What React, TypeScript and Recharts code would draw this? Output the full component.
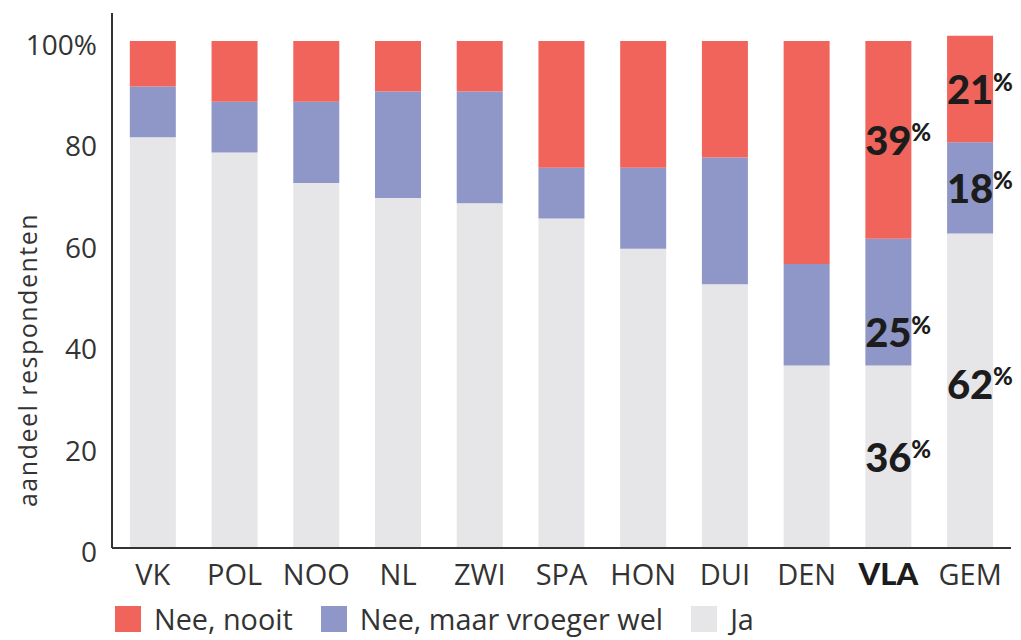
import { Bar, BarChart, LabelList, Legend, XAxis, YAxis } from "recharts";

const countries = ["VK", "POL", "NOO", "NL", "ZWI", "SPA", "HON", "DUI", "DEN", "VLA", "GEM"];
const ja = [81, 78, 72, 69, 68, 65, 59, 52, 36, 36, 62];
const vroegerWel = [10, 10, 16, 21, 22, 10, 16, 25, 20, 25, 18];
const nooit = [9, 12, 12, 10, 10, 25, 25, 23, 44, 39, 21];
const yTicks = [0, 20, 40, 60, 80, 100];
const labelled = ["VLA", "GEM"];

const RED = "#f0645c";
const BLUE = "#8e97c7";
const GREY = "#e6e6e8";
const INK = "#333333";
const FONT = "'Open Sans', Lato, sans-serif";
const BOLD_FONT = "Lato, 'Open Sans', sans-serif";

const data = countries.map((land, i) => ({
  land,
  ja: ja[i],
  vroegerWel: vroegerWel[i],
  nooit: nooit[i],
}));

const legendItems = [
  { label: "Nee, nooit", color: RED },
  { label: "Nee, maar vroeger wel", color: BLUE },
  { label: "Ja", color: GREY },
];

// a couple of labels sit off-centre in their segment in the original
const labelShift: Record<string, number> = { "VLA-vroegerWel": 30, "GEM-ja": -7 };

function pctLabel(key: string) {
  return (props: any) => {
    const { x, y, width, height, index, value } = props;
    const land = countries[index];
    if (!labelled.includes(land)) return null;
    const cx = Number(x) + Number(width) / 2;
    const cy = Number(y) + Number(height) / 2 + (labelShift[`${land}-${key}`] ?? 0);
    return (
      <g>
        <text x={cx} y={cy} textAnchor="middle" dominantBaseline="central" fontFamily={BOLD_FONT} fontSize={40} fontWeight={900} fill="#1c1c1c">
          {value}
        </text>
        <text x={cx + 23} y={cy - 8} textAnchor="start" dominantBaseline="central" fontFamily={BOLD_FONT} fontSize={24} fontWeight={900} fill="#1c1c1c">
          %
        </text>
      </g>
    );
  };
}

function XTick(props: any) {
  const { x, y, payload } = props;
  const bold = payload.value === "VLA";
  return (
    <text x={x} y={y + 29} textAnchor="middle" fontFamily={bold ? BOLD_FONT : FONT} fontSize={bold ? 31 : 29} fontWeight={bold ? 900 : 400} fill={bold ? "#1c1c1c" : INK}>
      {payload.value}
    </text>
  );
}

function YTick(props: any) {
  const { y, payload } = props;
  return (
    <text x={97} y={y + 14} textAnchor="end" fontFamily={FONT} fontSize={28} fill={INK}>
      {payload.value === 100 ? "100%" : payload.value}
    </text>
  );
}

function YTitle() {
  return (
    <text x={27} y={360} transform="rotate(-90 27 360)" textAnchor="middle" dominantBaseline="central" fontFamily={FONT} fontSize={25} letterSpacing={1.5} fill={INK}>
      aandeel respondenten
    </text>
  );
}

function LegendRow() {
  return (
    <div style={{ display: "flex", alignItems: "center", paddingLeft: 115, height: 38, fontFamily: FONT, fontSize: 28.8, lineHeight: "32px", color: INK }}>
      {legendItems.map((it) => (
        <div key={it.label} style={{ display: "flex", alignItems: "center", marginRight: 28 }}>
          <span style={{ width: 26, height: 26, background: it.color, marginRight: 13, display: "inline-block" }} />
          <span>{it.label}</span>
        </div>
      ))}
    </div>
  );
}

export default function App() {
  return (
    <div style={{ width: 1021, height: 640, background: "#fff" }}>
      <style>{`body{margin:0}`}</style>
      <BarChart width={1021} height={640} data={data} margin={{ top: 13, right: 10, bottom: 2, left: 0 }} barCategoryGap="21.8%">
        <XAxis dataKey="land" tick={<XTick />} tickLine={false} axisLine={{ stroke: INK, strokeWidth: 2 }} height={52} interval={0} />
        <YAxis
          type="number"
          domain={[0, 105.5]}
          ticks={yTicks}
          tick={<YTick />}
          tickLine={false}
          axisLine={{ stroke: INK, strokeWidth: 2 }}
          width={112}
          label={<YTitle />}
        />
        <Legend verticalAlign="bottom" align="left" content={<LegendRow />} wrapperStyle={{ height: 38, left: 0, width: 1021 }} />
        <Bar dataKey="ja" name="Ja" stackId="a" fill={GREY} isAnimationActive={false}>
          <LabelList dataKey="ja" content={pctLabel("ja")} />
        </Bar>
        <Bar dataKey="vroegerWel" name="Nee, maar vroeger wel" stackId="a" fill={BLUE} isAnimationActive={false}>
          <LabelList dataKey="vroegerWel" content={pctLabel("vroegerWel")} />
        </Bar>
        <Bar dataKey="nooit" name="Nee, nooit" stackId="a" fill={RED} isAnimationActive={false}>
          <LabelList dataKey="nooit" content={pctLabel("nooit")} />
        </Bar>
      </BarChart>
    </div>
  );
}
